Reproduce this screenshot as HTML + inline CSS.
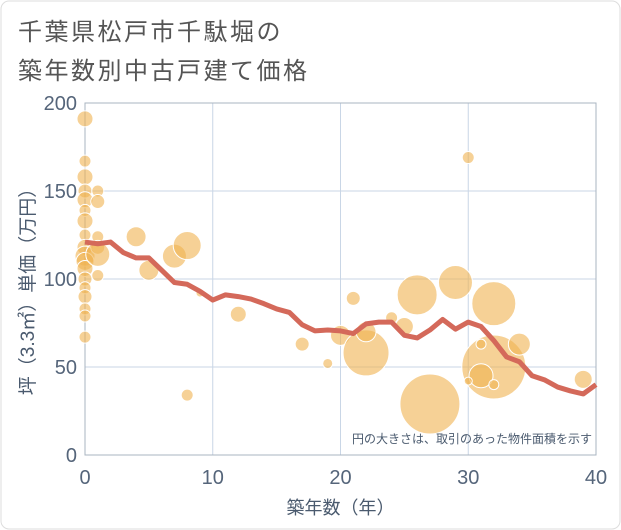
<!DOCTYPE html>
<html><head><meta charset="utf-8"><style>
body{margin:0;background:#fff;}
#wrap{position:relative;width:621px;height:530px;font-family:"Liberation Sans","Noto Sans CJK JP",sans-serif;}
.title{position:absolute;left:18px;font-size:24px;color:#555;letter-spacing:2.5px;}
</style></head><body>
<div id="wrap">
<div class="title" style="top:12px">千葉県松戸市千駄堀の</div>
<div class="title" style="top:51px">築年数別中古戸建て価格</div>
<svg id="chart" width="621" height="530" style="position:absolute;left:0;top:0"></svg>
</div>
<script>
const xTicks=[0,10,20,30,40];
const yTicks=[0,50,100,150,200];
const lineYears=[0,1,2,3,4,5,6,7,8,9,10,11,12,13,14,15,16,17,18,19,20,21,22,23,24,25,26,27,28,29,30,31,32,33,34,35,36,37,38,39,40];
const lineValues=[121,120,121,115,112,112,105,98,97,93,88,91,90,88.6,86,83,81,74,70.5,71,70.5,69,74.5,75.5,75.5,68,66.5,71,77,71.5,75.5,73,65,55.7,53,45,42.6,38.6,36.4,34.7,40];
const bubbleYears=[0,0,0,0,0,0,0,0,0,0,0,0,0,0,0,0,0,0,1,1,1,1,1,1,4,5,7,8,9,8,12,17,19,21,20,22,22,24,25,26,27,29,30,32,32,31,30,31,32,34,39];
const bubblePrices=[191,167,158,150,145,139,133,125,118,113,110,106,100,95,90,83,79,67,150,144,124,118,114,102,124,105,113,119,92,34,80,63,52,89,68,58,70,78,73,91,29,98,169,86,50,45,42,63,40,63,43];
const bubbleSizes=[8,6,8,7,8,6,8,6,8,10,9,8,7,6,7,6,6,6,6,7,6,7,12,6,10,10,12,14,4,6,8,7,5,7,10,23,10,6,9,20,30,17,6,22,32,12,4,5,5,11,9];
const L=85,R=596,T=103,B=455;
const sx=v=>L+(v-0)/40*(R-L);
const sy=v=>B-(v/200)*(B-T);
const svg=document.getElementById('chart');
const NS='http://www.w3.org/2000/svg';
function mk(tag,attrs){const e=document.createElementNS(NS,tag);for(const k in attrs)e.setAttribute(k,attrs[k]);svg.appendChild(e);return e;}
const frame=mk('rect',{x:1,y:1,width:619,height:528,rx:8,fill:'none',stroke:'#ddd'});


yTicks.forEach(t=>{
 const g=mk('line',{x1:L,x2:R,y1:sy(t),y2:sy(t),stroke:'#c9d6e6','stroke-width':1});
 
 
 const tx=mk('text',{x:L-8,y:sy(t)+7,'text-anchor':'end','font-size':20,fill:'#55657a'});
 tx.textContent=t;
 
 
});
xTicks.forEach(t=>{
 const g=mk('line',{x1:sx(t),x2:sx(t),y1:T,y2:B,stroke:'#c9d6e6','stroke-width':1});
 
 
 const tx=mk('text',{x:sx(t),y:B+29,'text-anchor':'middle','font-size':20,fill:'#55657a'});
 tx.textContent=t;
 
 
});
const pa=mk('rect',{x:L,y:T,width:R-L,height:B-T,fill:'none',stroke:'#aab4c0'});


bubbleYears.forEach((y,i)=>{
 const c=mk('circle',{cx:sx(y),cy:sy(bubblePrices[i]),r:bubbleSizes[i],fill:'rgba(240,178,80,0.6)',stroke:'#fff','stroke-width':1});
 
 
});
const pts=lineYears.map((y,i)=>sx(y)+','+sy(lineValues[i])).join(' ');
const pl=mk('polyline',{points:pts,fill:'none',stroke:'#d4695a','stroke-width':5,'stroke-linejoin':'round'});


const note=mk('text',{x:592,y:443,'text-anchor':'end','font-size':12,fill:'#4a5a6e'});
note.textContent='円の大きさは、取引のあった物件面積を示す';


const xt=mk('text',{x:(L+R)/2,y:514,'text-anchor':'middle','font-size':18,fill:'#4a5a6e'});
xt.textContent='築年数（年）';


const yt=mk('text',{x:0,y:0,'text-anchor':'middle','font-size':19,fill:'#4a5a6e',transform:'translate(34,'+((T+B)/2+8)+') rotate(-90)'});
yt.textContent='坪（3.3㎡）単価（万円）';


</script>
</body></html>
